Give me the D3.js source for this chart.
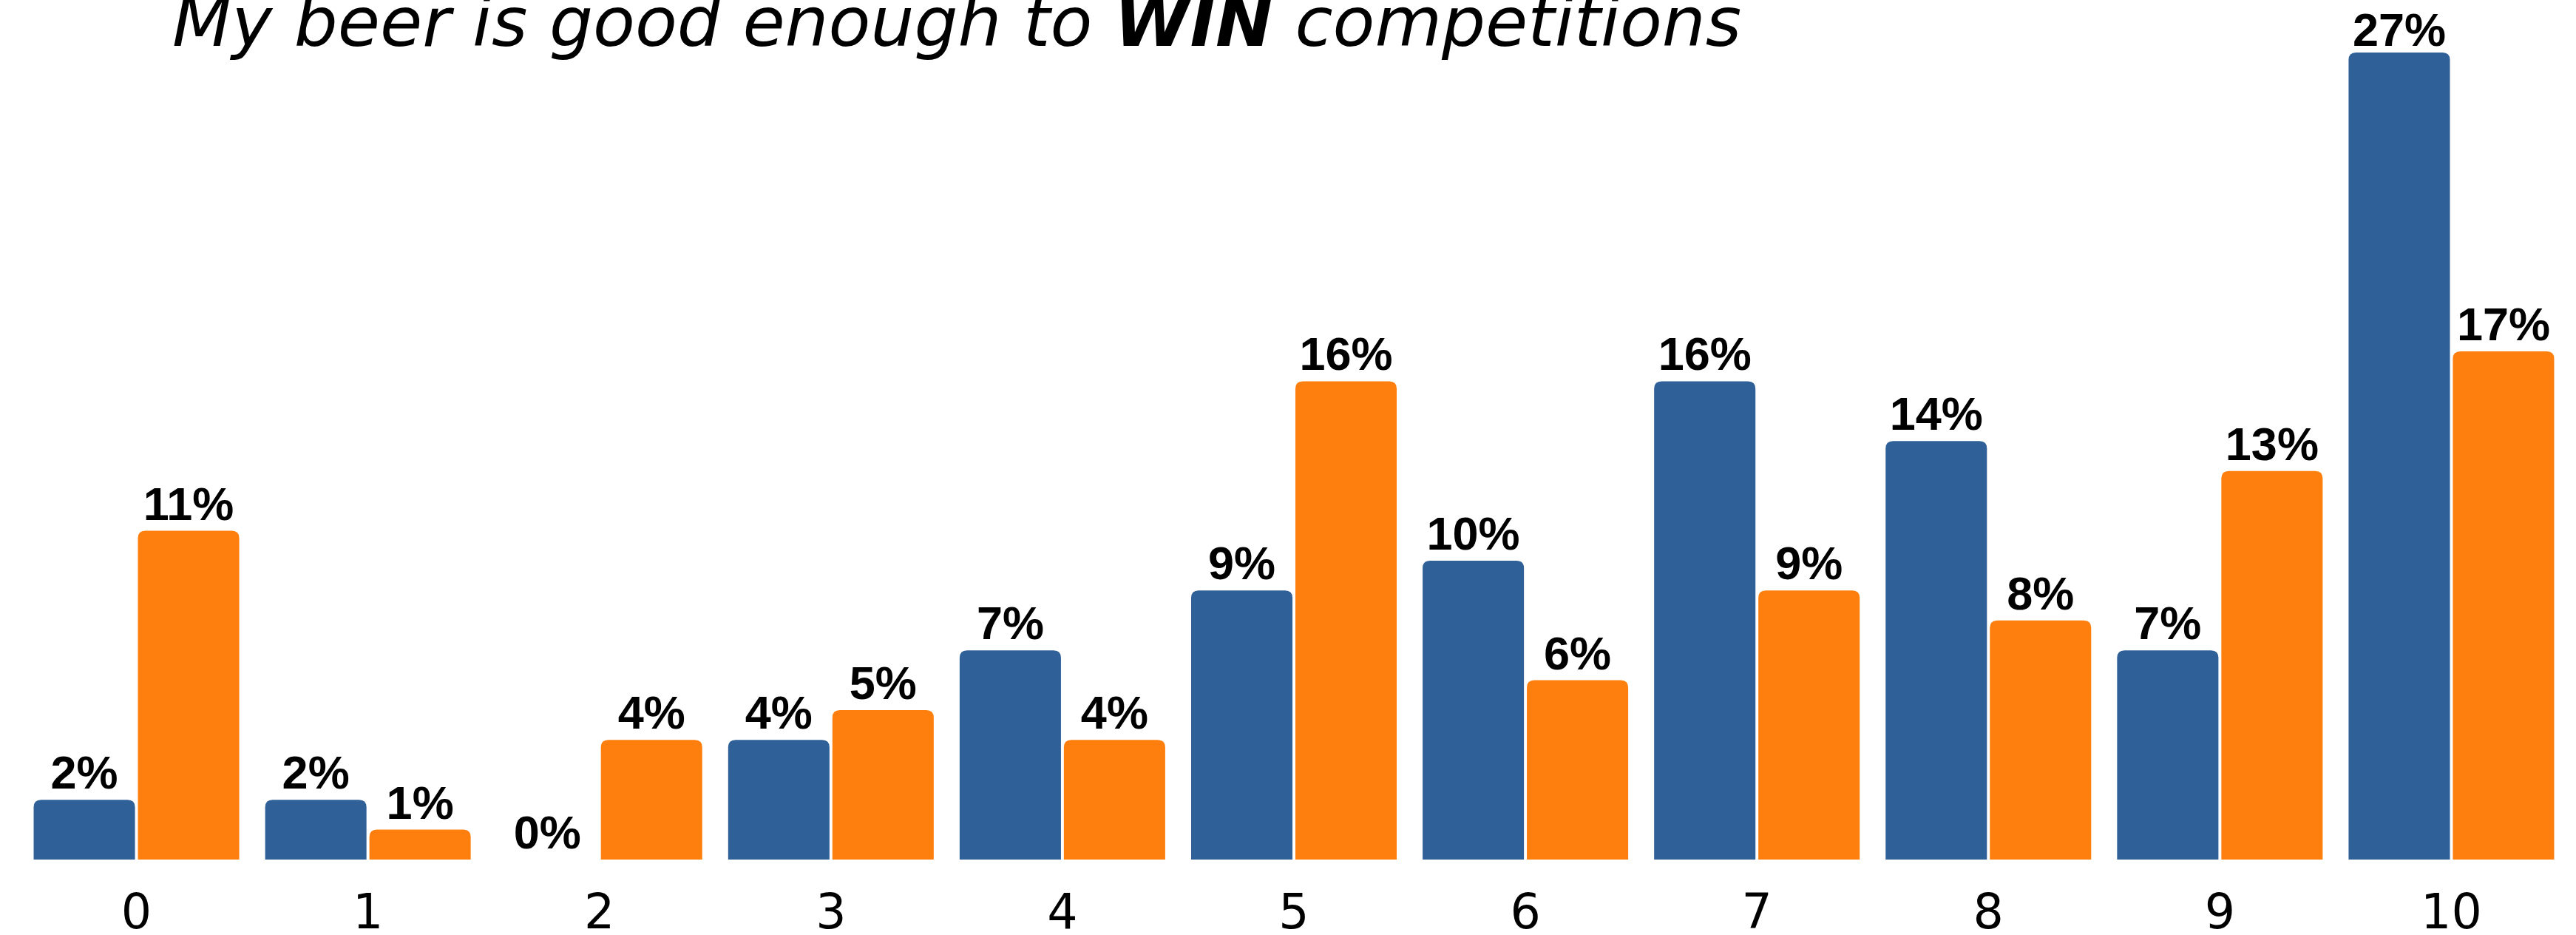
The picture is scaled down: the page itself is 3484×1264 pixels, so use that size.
<!DOCTYPE html>
<html>
<head>
<meta charset="utf-8">
<script src="https://cdn.jsdelivr.net/npm/d3@7"></script>
<style>
  html, body { margin: 0; padding: 0; background: #ffffff; }
  svg { display: block; }
</style>
</head>
<body>
<svg id="chart" width="3484" height="1264"></svg>
<script>
// Rating scale 0..10 and the share of answers for each group
const categories = ["0", "1", "2", "3", "4", "5", "6", "7", "8", "9", "10"];
const seriesNames = ["groupA", "groupB"];
const groupA = [2, 2, 0, 4, 7, 9, 10, 16, 14, 7, 27];
const groupB = [11, 1, 4, 5, 4, 16, 6, 9, 8, 13, 17];
const seriesColors = ["#2f6098", "#ff7f0e"];

const W = 3484, H = 1264;
const baseY = 1162, topY = 71;

const svg = d3.select("#chart");

const rows = categories.map((c, i) => ({
  cat: c,
  vals: [
    { key: seriesNames[0], v: groupA[i] },
    { key: seriesNames[1], v: groupB[i] }
  ]
}));

const x0 = d3.scaleBand()
  .domain(categories)
  .range([28, 3472])
  .paddingInner(0.112)
  .paddingOuter(0.056);

const x1 = d3.scaleBand()
  .domain(seriesNames)
  .range([0, x0.bandwidth()])
  .paddingInner(0.028)
  .paddingOuter(0);

const y = d3.scaleLinear()
  .domain([0, d3.max(groupA.concat(groupB))])
  .range([baseY, topY]);

const color = d3.scaleOrdinal().domain(seriesNames).range(seriesColors);

// bar with rounded top corners only
function topRounded(x, yTop, w, h, r) {
  r = Math.min(r, h, w / 2);
  return `M${x},${yTop + h}` +
    `V${yTop + r}` +
    `Q${x},${yTop} ${x + r},${yTop}` +
    `H${x + w - r}` +
    `Q${x + w},${yTop} ${x + w},${yTop + r}` +
    `V${yTop + h}Z`;
}

const groups = svg.append("g").selectAll("g")
  .data(rows)
  .join("g")
  .attr("transform", d => `translate(${x0(d.cat)},0)`);

groups.selectAll("path")
  .data(d => d.vals.filter(e => e.v > 0))
  .join("path")
  .attr("d", e => topRounded(x1(e.key), y(e.v), x1.bandwidth(), baseY - y(e.v), 10))
  .attr("fill", e => color(e.key));

// value labels above each bar, kept inside the top of the canvas
groups.selectAll("text")
  .data(d => d.vals)
  .join("text")
  .attr("x", e => x1(e.key) + x1.bandwidth() / 2)
  .attr("y", e => Math.max(y(e.v) - 15, 62))
  .attr("text-anchor", "middle")
  .attr("font-family", "'Liberation Sans', Arial, sans-serif")
  .attr("font-weight", "bold")
  .attr("font-size", 63)
  .attr("fill", "#000")
  .text(e => `${e.v}%`);

// category axis
const axis = svg.append("g")
  .attr("transform", `translate(0,${baseY})`)
  .call(d3.axisBottom(x0).tickSize(0).tickPadding(47));
axis.select(".domain").remove();
axis.selectAll("text")
  .attr("font-family", "'DejaVu Sans', sans-serif")
  .attr("font-size", 65)
  .attr("fill", "#000");

// title
const title = svg.append("text")
  .attr("x", 233)
  .attr("y", 62)
  .attr("font-family", "'DejaVu Sans', sans-serif")
  .attr("font-style", "italic")
  .attr("font-size", 93)
  .attr("fill", "#000");
title.append("tspan").text("My beer is good enough to ");
title.append("tspan").attr("font-weight", "bold").text("WIN");
title.append("tspan").text(" competitions");
</script>
</body>
</html>
